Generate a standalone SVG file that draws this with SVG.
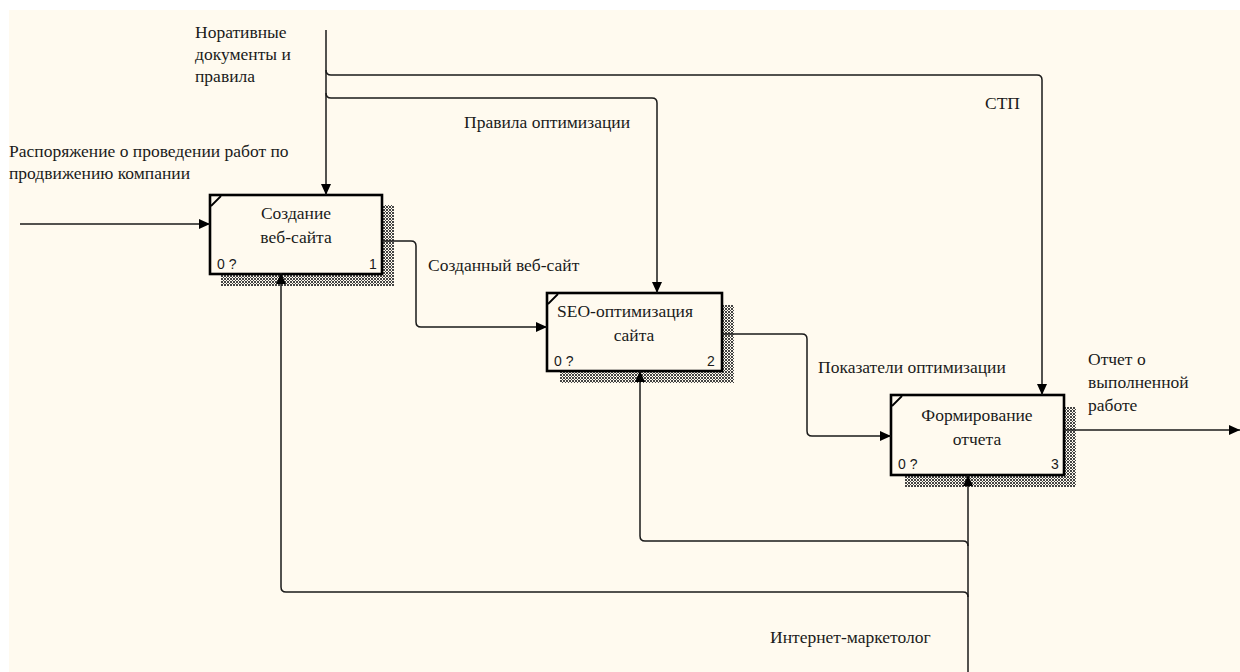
<svg xmlns="http://www.w3.org/2000/svg" width="1240" height="672" viewBox="0 0 1240 672">
<defs>
<style>
.bg{fill:#FFFAEF}
.box{fill:#FFFAEF;stroke:#000;stroke-width:2.6}
.corner{stroke:#000;stroke-width:1.8;fill:none}
.sh{fill:url(#hatch)}
.c{fill:none;stroke:#1a1a1a;stroke-width:1.5}
.lbl{font-family:"Liberation Serif","Times New Roman",serif;font-size:17.5px;fill:#1a1a1a}
.t{font-family:"Liberation Serif","Times New Roman",serif;font-size:17.5px;fill:#1a1a1a;text-anchor:middle}
.n{font-family:"Liberation Sans",Arial,sans-serif;font-size:14px;fill:#1a1a1a}
</style>
<pattern id="hatch" width="3" height="3" patternUnits="userSpaceOnUse">
<rect width="3" height="3" fill="#FFFAEF"/>
<rect x="0" y="0" width="1" height="1" fill="#444"/>
<rect x="2" y="0" width="1" height="1" fill="#444"/>
<rect x="1" y="1" width="1" height="1" fill="#444"/>
<rect x="0" y="2" width="1" height="1" fill="#444"/>
<rect x="2" y="2" width="1" height="1" fill="#444"/>
</pattern>
<marker id="ah" markerUnits="userSpaceOnUse" markerWidth="12" markerHeight="12" refX="11" refY="6" orient="auto">
<path d="M0,1 L11,6 L0,11 Z" fill="#000"/>
</marker>
</defs>
<rect class="bg" x="9" y="10" width="1231" height="662"/>

<g id="box1">
<rect class="sh" x="382" y="205" width="12" height="81"/>
<rect class="sh" x="221" y="274" width="173" height="12"/>
<rect class="box" x="210" y="195" width="172" height="79"/>
<path class="corner" d="M211,206 L221,196"/>
<text class="t" x="296" y="219">Создание</text>
<text class="t" x="296" y="243">веб-сайта</text>
<text class="n" x="217" y="269">0 ?</text>
<text class="n" x="369" y="269">1</text>
</g>

<g id="box2">
<rect class="sh" x="722" y="305" width="12" height="78"/>
<rect class="sh" x="560" y="371" width="174" height="12"/>
<rect class="box" x="547" y="293" width="175" height="78"/>
<path class="corner" d="M548,304 L558,294"/>
<text class="t" x="625" y="317">SEO-оптимизация</text>
<text class="t" x="634" y="341">сайта</text>
<text class="n" x="554" y="366">0 ?</text>
<text class="n" x="707" y="366">2</text>
</g>

<g id="box3">
<rect class="sh" x="1064" y="407" width="12" height="80"/>
<rect class="sh" x="905" y="475" width="171" height="12"/>
<rect class="box" x="891" y="395" width="173" height="80"/>
<path class="corner" d="M892,406 L902,396"/>
<text class="t" x="977" y="421">Формирование</text>
<text class="t" x="977" y="445">отчета</text>
<text class="n" x="898" y="469">0 ?</text>
<text class="n" x="1051" y="469">3</text>
</g>

<g id="connectors">
<path class="c" d="M326,30 L326,195" marker-end="url(#ah)"/>
<path class="c" d="M326,70 Q326,75 331,75 L1037,75 Q1042,75 1042,80 L1042,395" marker-end="url(#ah)"/>
<path class="c" d="M326,93 Q326,98 331,98 L652,98 Q657,98 657,103 L657,293" marker-end="url(#ah)"/>
<path class="c" d="M20,224 L210,224" marker-end="url(#ah)"/>
<path class="c" d="M382,241 L411,241 Q416,241 416,246 L416,322 Q416,327 421,327 L547,327" marker-end="url(#ah)"/>
<path class="c" d="M722,334 L802,334 Q807,334 807,339 L807,431 Q807,436 812,436 L891,436" marker-end="url(#ah)"/>
<path class="c" d="M1064,430 L1240,430" marker-end="url(#ah)"/>
<path class="c" d="M968,672 L968,475" marker-end="url(#ah)"/>
<path class="c" d="M968,546 Q968,541 963,541 L645,541 Q640,541 640,536 L640,371" marker-end="url(#ah)"/>
<path class="c" d="M968,597 Q968,592 963,592 L286,592 Q281,592 281,587 L281,273" marker-end="url(#ah)"/>
</g>

<g id="labels">
<text class="lbl" x="195" y="38">Норативные</text>
<text class="lbl" x="195" y="60">документы и</text>
<text class="lbl" x="195" y="82">правила</text>
<text class="lbl" x="9" y="157">Распоряжение о проведении работ по</text>
<text class="lbl" x="9" y="179">продвижению компании</text>
<text class="lbl" x="464" y="128">Правила оптимизации</text>
<text class="lbl" x="985" y="109">СТП</text>
<text class="lbl" x="428" y="271">Созданный веб-сайт</text>
<text class="lbl" x="818" y="373">Показатели оптимизации</text>
<text class="lbl" x="1088" y="365">Отчет о</text>
<text class="lbl" x="1088" y="388">выполненной</text>
<text class="lbl" x="1088" y="411">работе</text>
<text class="lbl" x="770" y="643">Интернет-маркетолог</text>
</g>
</svg>
